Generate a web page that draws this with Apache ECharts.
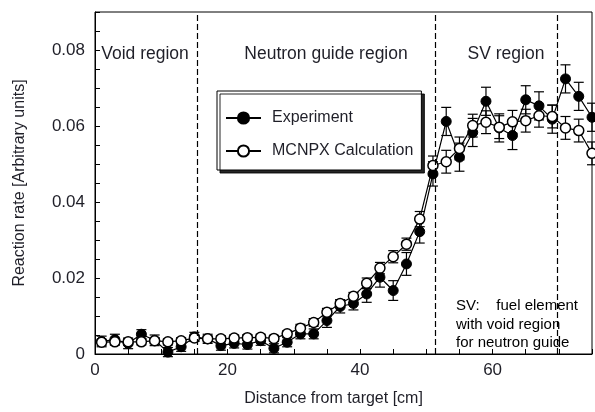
<!DOCTYPE html>
<html>
<head>
<meta charset="utf-8">
<script src="https://cdn.jsdelivr.net/npm/echarts@6/dist/echarts.min.js"></script>
<style>
  html, body { margin: 0; padding: 0; background: #fff; }
  #chart { width: 595px; height: 412px; }
</style>
</head>
<body>
<div id="chart"></div>
<script>
// distance from target [cm]
var distances = [1, 3, 5, 7, 9, 11, 13, 15, 17, 19, 21, 23, 25, 27, 29, 31, 33, 35, 37,
  39, 41, 43, 45, 47, 49, 51, 53, 55, 57, 59, 61, 63, 65, 67, 69, 71, 73, 75];

var experiment = [0.0033, 0.0038, 0.0028, 0.0052, 0.0036, 0.0005, 0.0019, 0.0045, 0.0040,
  0.0022, 0.0028, 0.0025, 0.0035, 0.0015, 0.0031, 0.0053, 0.0053, 0.0088, 0.0125,
  0.0133, 0.0158, 0.0202, 0.0167, 0.0237, 0.0322, 0.0474, 0.0612, 0.0518, 0.0583,
  0.0665, 0.0595, 0.0575, 0.0669, 0.0653, 0.0618, 0.0724, 0.0678, 0.0623];

var experimentErr = [0.0014, 0.0014, 0.0014, 0.0012, 0.0014, 0.0012, 0.0012, 0.0012, 0.0012,
  0.0012, 0.0012, 0.0012, 0.0012, 0.0012, 0.0012, 0.0013, 0.0013, 0.0018, 0.0017,
  0.0017, 0.0022, 0.0026, 0.0026, 0.0030, 0.0030, 0.0032, 0.0037, 0.0037, 0.0037,
  0.0037, 0.0037, 0.0037, 0.0037, 0.0037, 0.0037, 0.0037, 0.0037, 0.0037];

var mcnpx = [0.0031, 0.0032, 0.0032, 0.0032, 0.0035, 0.0032, 0.0035, 0.0042, 0.0040,
  0.0040, 0.0042, 0.0043, 0.0044, 0.0041, 0.0053, 0.0068, 0.0083, 0.0110, 0.0133,
  0.0152, 0.0186, 0.0226, 0.0256, 0.0289, 0.0355, 0.0496, 0.0506, 0.0541, 0.0601,
  0.0610, 0.0597, 0.0611, 0.0614, 0.0627, 0.0625, 0.0595, 0.0588, 0.0528];

var mcnpxErr = [0.0008, 0.0008, 0.0008, 0.0008, 0.0008, 0.0008, 0.0008, 0.0008, 0.0008,
  0.0008, 0.0008, 0.0008, 0.0008, 0.0008, 0.0008, 0.0010, 0.0010, 0.0010, 0.0010,
  0.0010, 0.0014, 0.0015, 0.0016, 0.0016, 0.0020, 0.0025, 0.0030, 0.0030, 0.0030,
  0.0030, 0.0030, 0.0030, 0.0030, 0.0030, 0.0030, 0.0030, 0.0030, 0.0030];

// region boundaries (dashed lines)
var boundaries = [15.4, 51.4, 69.8];

var FONT = 'Liberation Sans, Arial, sans-serif';
var INK = '#1f1f28';

function pairs(ys) {
  return distances.map(function (x, i) { return [x, ys[i]]; });
}
function errRows(ys, errs) {
  return distances.map(function (x, i) { return [x, ys[i] - errs[i], ys[i] + errs[i]]; });
}

function renderErr(params, api) {
  var x = api.value(0);
  var lo = api.coord([x, api.value(1)]);
  var hi = api.coord([x, api.value(2)]);
  var w = 5;
  var st = { stroke: '#000', lineWidth: 1.2 };
  return {
    type: 'group',
    children: [
      { type: 'line', shape: { x1: lo[0], y1: lo[1], x2: hi[0], y2: hi[1] }, style: st },
      { type: 'line', shape: { x1: lo[0] - w, y1: lo[1], x2: lo[0] + w, y2: lo[1] }, style: st },
      { type: 'line', shape: { x1: hi[0] - w, y1: hi[1], x2: hi[0] + w, y2: hi[1] }, style: st }
    ]
  };
}

var chart = echarts.init(document.getElementById('chart'));

var option = {
  animation: false,
  backgroundColor: '#fff',
  grid: {
    left: 95, right: -4, top: 12, bottom: 57,
    show: true, borderColor: '#000', borderWidth: 1
  },
  legend: {
    orient: 'vertical',
    left: 217, top: 91,
    padding: [19, 8, 11, 8],
    itemWidth: 35, itemHeight: 14, itemGap: 17,
    backgroundColor: '#fff',
    borderColor: '#000', borderWidth: 1,
    shadowColor: 'rgba(0,0,0,0.85)', shadowBlur: 0, shadowOffsetX: 3, shadowOffsetY: 3,
    textStyle: { fontFamily: FONT, fontSize: 16, color: INK, lineHeight: 14, padding: [0, 0, 0, 6] },
    data: ['Experiment', 'MCNPX Calculation']
  },
  xAxis: {
    type: 'value',
    min: 0, max: 75, interval: 5,
    name: 'Distance from target [cm]',
    nameLocation: 'middle', nameGap: 37,
    nameTextStyle: { fontFamily: FONT, fontSize: 16, color: INK, padding: [0, 20, 0, 0] },
    axisLine: { lineStyle: { color: '#000', width: 1 } },
    axisTick: { inside: true, length: 5, lineStyle: { color: '#000' } },
    splitLine: { show: false },
    axisLabel: {
      interval: 0, margin: 8,
      fontFamily: FONT, fontSize: 17, color: INK,
      formatter: function (v) { return v % 20 === 0 ? String(v) : ''; }
    }
  },
  yAxis: {
    type: 'value',
    min: 0, max: 0.09, interval: 0.005,
    name: 'Reaction rate [Arbitrary units]',
    nameLocation: 'middle', nameGap: 67,
    nameTextStyle: { fontFamily: FONT, fontSize: 16, color: INK },
    axisLine: { show: true, lineStyle: { color: '#000', width: 1 } },
    axisTick: { show: true, inside: true, length: 5, lineStyle: { color: '#000' } },
    splitLine: { show: false },
    axisLabel: {
      interval: 0, margin: 10,
      fontFamily: FONT, fontSize: 17, color: INK,
      formatter: function (v) {
        var k = v / 0.02;
        if (Math.abs(k - Math.round(k)) > 1e-6) return '';
        return v === 0 ? '0' : v.toFixed(2);
      }
    }
  },
  series: [
    {
      name: 'Experiment err',
      type: 'custom',
      renderItem: renderErr,
      data: errRows(experiment, experimentErr),
      z: 1, silent: true
    },
    {
      name: 'MCNPX err',
      type: 'custom',
      renderItem: renderErr,
      data: errRows(mcnpx, mcnpxErr),
      z: 1, silent: true
    },
    {
      name: 'Experiment',
      type: 'line',
      data: pairs(experiment),
      symbol: 'circle', symbolSize: 10,
      lineStyle: { color: '#000', width: 1.2 },
      itemStyle: { color: '#000', borderColor: '#000', borderWidth: 1 },
      z: 3,
      markLine: {
        silent: true,
        symbol: ['none', 'none'],
        label: { show: false },
        lineStyle: { color: '#000', width: 1.2, type: [6, 3] },
        data: boundaries.map(function (b) { return { xAxis: b }; })
      }
    },
    {
      name: 'MCNPX Calculation',
      type: 'line',
      data: pairs(mcnpx),
      symbol: 'circle', symbolSize: 10,
      lineStyle: { color: '#000', width: 1.2 },
      itemStyle: { color: '#fff', borderColor: '#000', borderWidth: 1.5 },
      z: 4
    }
  ],
  graphic: [
    { type: 'text', z: 10, style: { text: 'Void region', x: 145, y: 54, textAlign: 'center', textVerticalAlign: 'middle', font: '17.5px ' + FONT, fill: INK } },
    { type: 'text', z: 10, style: { text: 'Neutron guide region', x: 326, y: 54, textAlign: 'center', textVerticalAlign: 'middle', font: '17.5px ' + FONT, fill: INK } },
    { type: 'text', z: 10, style: { text: 'SV region', x: 506, y: 54, textAlign: 'center', textVerticalAlign: 'middle', font: '17.5px ' + FONT, fill: INK } },
    { type: 'text', z: 10, style: { text: 'SV:    fuel element\nwith void region\nfor neutron guide', x: 456, y: 297, textAlign: 'left', textVerticalAlign: 'top', font: '15px ' + FONT, lineHeight: 18.5, fill: '#000' } }
  ]
};

chart.setOption(option);
</script>
</body>
</html>
